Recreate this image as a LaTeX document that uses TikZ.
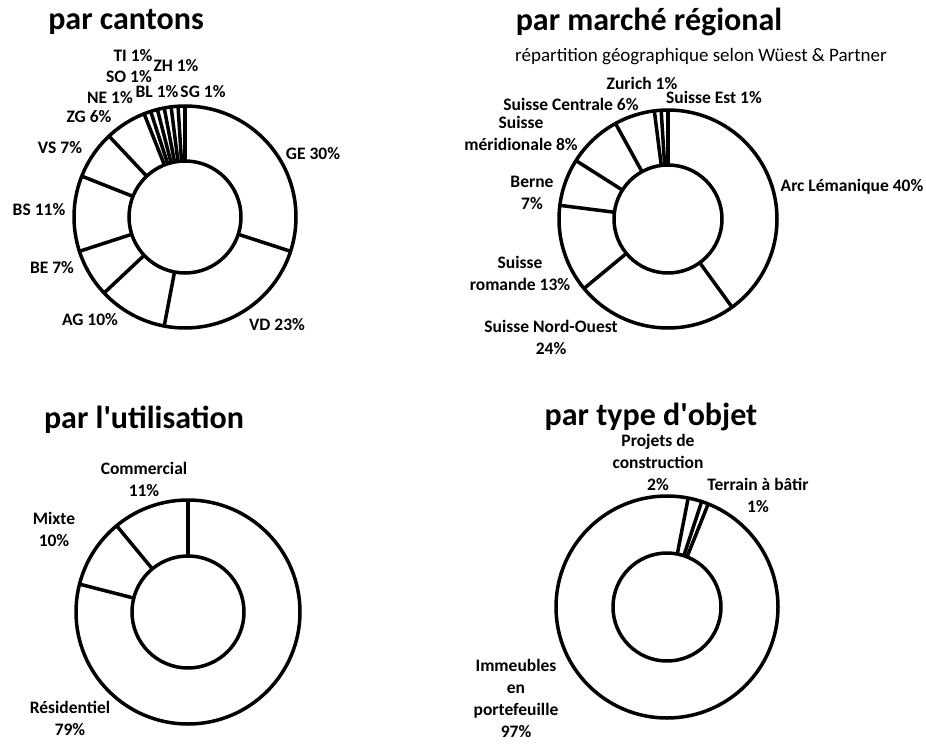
\documentclass[tikz,border=0pt]{standalone}
\usepackage{fontspec}
\setmainfont{Carlito}
\usetikzlibrary{positioning}

\tikzset{
  ring/.style={line width=3.5pt},
  lbl/.style={font=\bfseries\fontsize{17.5}{22}\selectfont, align=center, inner sep=0pt},
  ttl/.style={font=\bfseries\fontsize{32}{36}\selectfont, inner sep=0pt},
}

\begin{document}
\begin{tikzpicture}[x=1pt,y=-1pt]
	\fill[white] (0,0) rectangle (926,749);
	\useasboundingbox (0,0) rectangle (926,749);
	%
	\coordinate (c1) at (185,217);
	\coordinate (c2) at (668,219);
	\coordinate (c3) at (188,612);
	\coordinate (c4) at (667,607);
	%
	% par cantons
	\draw[ring] (c1) circle [radius=111] (c1) circle [radius=56];
	\foreach \a in {-90,18,100.8,136.8,162,201.6,226.8,248.4,252,255.6,259.2,262.8,266.4}
		\draw[ring,shift={(c1)}] (\a:56) -- (\a:111);
	\node[ttl] (t1) at (126,22) {par cantons};
	\node[lbl] (ge) at (313,154) {GE 30\%};
	\node[lbl] (vd) at (277,325) {VD 23\%};
	\node[lbl] (ag) at (90,320) {AG 10\%};
	\node[lbl] (be) at (52,268) {BE 7\%};
	\node[lbl] (bs) at (39,210) {BS 11\%};
	\node[lbl] (vs) at (60,148) {VS 7\%};
	\node[lbl] (zg) at (89,117) {ZG 6\%};
	\node[lbl] (ne) at (110,98) {NE 1\%};
	\node[lbl] (so) at (129,77) {SO 1\%};
	\node[lbl] (ti) at (133,56) {TI 1\%};
	\node[lbl] (bl) at (157,92) {BL 1\%};
	\node[lbl] (zh) at (176,66) {ZH 1\%};
	\node[lbl] (sg) at (203,92) {SG 1\%};
	%
	% par marche regional
	\draw[ring] (c2) circle [radius=109] (c2) circle [radius=54];
	\foreach \a in {-90,54,140.4,187.2,212.4,241.2,262.8,266.4}
		\draw[ring,shift={(c2)}] (\a:54) -- (\a:109);
	\node[ttl] (t2) at (649,22) {par marché régional};
	\node[font=\fontsize{19}{22}\selectfont, inner sep=0pt] (sub) at (701,57) {répartition géographique selon Wüest \& Partner};
	\node[lbl] (arc) at (852,187) {Arc Lémanique 40\%};
	\node[lbl] (sno) at (551,337) {Suisse Nord-Ouest\\24\%};
	\node[lbl] (rom) at (520,273) {Suisse\\romande 13\%};
	\node[lbl] (ber) at (532,193) {Berne\\7\%};
	\node[lbl] (mer) at (521,133) {Suisse\\méridionale 8\%};
	\node[lbl] (cen) at (571,104) {Suisse Centrale 6\%};
	\node[lbl] (zur) at (642,83) {Zurich 1\%};
	\node[lbl] (est) at (714,97) {Suisse Est 1\%};
	%
	% par l'utilisation
	\draw[ring] (c3) circle [radius=112] (c3) circle [radius=56];
	\foreach \a in {-90,194.4,230.4}
		\draw[ring,shift={(c3)}] (\a:56) -- (\a:112);
	\node[ttl] (t3) at (144,420) {par l\textquotesingle utilisation};
	\node[lbl] (com) at (144,479) {Commercial\\11\%};
	\node[lbl] (mix) at (54,529) {Mixte\\10\%};
	\node[lbl] (res) at (70,718) {Résidentiel\\79\%};
	%
	% par type d'objet
	\draw[ring] (c4) circle [radius=111] (c4) circle [radius=54];
	\foreach \a in {-79,-71.8,-68.2}
		\draw[ring,shift={(c4)}] (\a:54) -- (\a:111);
	\node[ttl] (t4) at (651,417) {par type d\textquotesingle objet};
	\node[lbl] (pro) at (658,462) {Projets de\\construction\\2\%};
	\node[lbl] (ter) at (758,495) {Terrain à bâtir\\1\%};
	\node[lbl] (imm) at (516,698) {Immeubles\\en\\portefeuille\\97\%};
\end{tikzpicture}
\end{document}
